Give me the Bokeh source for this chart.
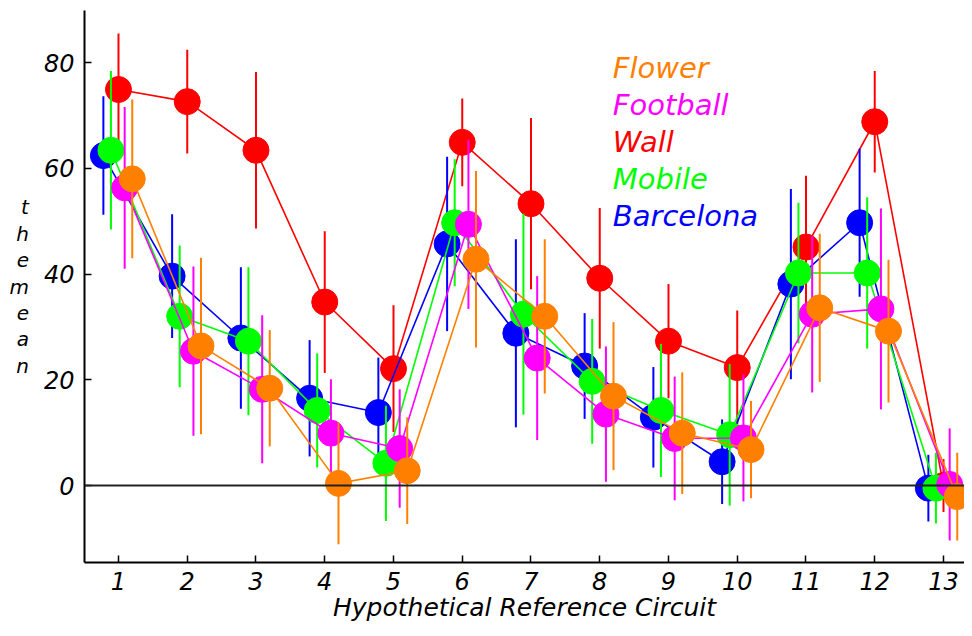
from bokeh.plotting import figure
from bokeh.models import Span, Label, FixedTicker, Range1d
from bokeh.embed import file_html
from bokeh.resources import INLINE

# ---------------- data ----------------
circuits = [1, 2, 3, 4, 5, 6, 7, 8, 9, 10, 11, 12, 13]
y_ticks = [0, 20, 40, 60, 80]

wall_mean = [74.9, 72.6, 63.4, 34.7, 22.1, 64.9, 53.3, 39.2, 27.3, 22.3, 45.1, 68.8, 0.0]
wall_err = [10.6, 9.8, 14.8, 13.4, 12.0, 8.3, 16.2, 13.3, 10.8, 10.8, 13.5, 9.6, 5.0]

barcelona_mean = [62.4, 39.6, 27.9, 16.5, 13.8, 45.7, 28.8, 22.6, 12.9, 4.5, 38.1, 49.7, -0.5]
barcelona_err = [11.2, 11.7, 13.4, 11.0, 10.4, 16.5, 17.8, 10.0, 9.5, 8.0, 18.0, 14.0, 6.3]

mobile_mean = [63.4, 32.0, 27.3, 14.2, 4.2, 49.7, 32.4, 19.7, 14.2, 9.6, 40.2, 40.2, -0.5]
mobile_err = [15.0, 13.4, 14.0, 10.8, 10.9, 12.0, 19.0, 11.8, 12.6, 13.4, 13.3, 14.3, 6.7]

football_mean = [56.3, 25.4, 18.2, 9.9, 7.0, 49.4, 24.1, 13.5, 8.9, 9.0, 32.4, 33.4, 0.2]
football_err = [15.3, 16.0, 14.0, 10.2, 11.2, 16.0, 15.5, 12.8, 11.7, 12.0, 14.8, 19.0, 10.6]

flower_mean = [58.0, 26.4, 18.4, 0.4, 2.8, 42.8, 32.0, 16.9, 9.9, 6.8, 33.6, 29.2, -2.1]
flower_err = [15.0, 16.7, 11.0, 11.5, 10.1, 16.7, 14.6, 14.0, 11.5, 9.2, 14.0, 13.5, 8.3]

legend_names = ["Flower", "Football", "Wall", "Mobile", "Barcelona"]

# ---------------- styling ----------------
FONT = "DejaVu Sans"
colors = {
    "Flower": "#FF8000",
    "Football": "#FF00FF",
    "Wall": "#FF0000",
    "Mobile": "#00FF00",
    "Barcelona": "#0000FF",
}
offsets = {"Wall": 0.0, "Barcelona": -0.22, "Mobile": -0.11, "Football": 0.09, "Flower": 0.2}
series = {
    "Wall": (wall_mean, wall_err),
    "Barcelona": (barcelona_mean, barcelona_err),
    "Mobile": (mobile_mean, mobile_err),
    "Football": (football_mean, football_err),
    "Flower": (flower_mean, flower_err),
}
draw_order = ["Wall", "Barcelona", "Mobile", "Football", "Flower"]

p = figure(width=964, height=628, output_backend="svg", toolbar_location=None,
           x_range=Range1d(0.5055, 13.3055), y_range=Range1d(-14.56, 89.84),
           min_border_left=84, min_border_right=0, min_border_top=10, min_border_bottom=66)
p.outline_line_color = None
p.xgrid.visible = False
p.ygrid.visible = False
p.background_fill_color = "white"

# zero line
p.add_layout(Span(location=0, dimension="width", line_color="#222222", line_width=2))

for name in draw_order:
    means, errs = series[name]
    xs = [c + offsets[name] for c in circuits]
    lo = [m - e for m, e in zip(means, errs)]
    hi = [m + e for m, e in zip(means, errs)]
    col = colors[name]
    p.line(xs, means, line_color=col, line_width=1.6)
    p.segment(x0=xs, y0=lo, x1=xs, y1=hi, line_color=col, line_width=2)
    p.scatter(xs, means, size=26, marker="circle", fill_color=col, line_color=col)

# legend as coloured text
legend_x = 8.19
legend_y = [78.9, 72.05, 65.06, 57.9, 50.9]
for name, ly in zip(legend_names, legend_y):
    p.add_layout(Label(x=legend_x, y=ly, text=name, text_color=colors[name],
                       text_font=FONT, text_font_style="italic", text_font_size="29px",
                       text_baseline="alphabetic", text_align="left"))

# axes
p.xaxis.ticker = FixedTicker(ticks=circuits)
p.yaxis.ticker = FixedTicker(ticks=y_ticks)
for ax in (p.xaxis, p.yaxis):
    ax.axis_line_color = "black"
    ax.axis_line_width = 2
    ax.major_tick_line_color = "black"
    ax.major_tick_line_width = 1.5
    ax.major_tick_in = 7
    ax.major_tick_out = 0
    ax.minor_tick_line_color = None
    ax.major_label_text_font = FONT
    ax.major_label_text_font_style = "italic"
    ax.major_label_text_font_size = "24px"
    ax.major_label_text_color = "black"
p.xaxis.major_label_standoff = 9
p.yaxis.major_label_standoff = 10
p.xaxis.axis_label = "Hypothetical Reference Circuit"
p.xaxis.axis_label_text_font = FONT
p.xaxis.axis_label_text_font_style = "italic"
p.xaxis.axis_label_text_font_size = "25px"
p.xaxis.axis_label_text_color = "black"
p.xaxis.axis_label_standoff = 0

# stacked y-axis label
p.yaxis.axis_label = "t\nh\ne\nm\ne\na\nn"
p.yaxis.axis_label_text_font = FONT
p.yaxis.axis_label_text_font_style = "italic"
p.yaxis.axis_label_text_font_size = "20px"
p.yaxis.axis_label_text_color = "black"
p.yaxis.axis_label_text_line_height = 1.1
p.yaxis.axis_label_standoff = 12
try:
    p.yaxis.axis_label_orientation = "horizontal"
except Exception:
    pass

open("out.html", "w").write(file_html(p, INLINE))
